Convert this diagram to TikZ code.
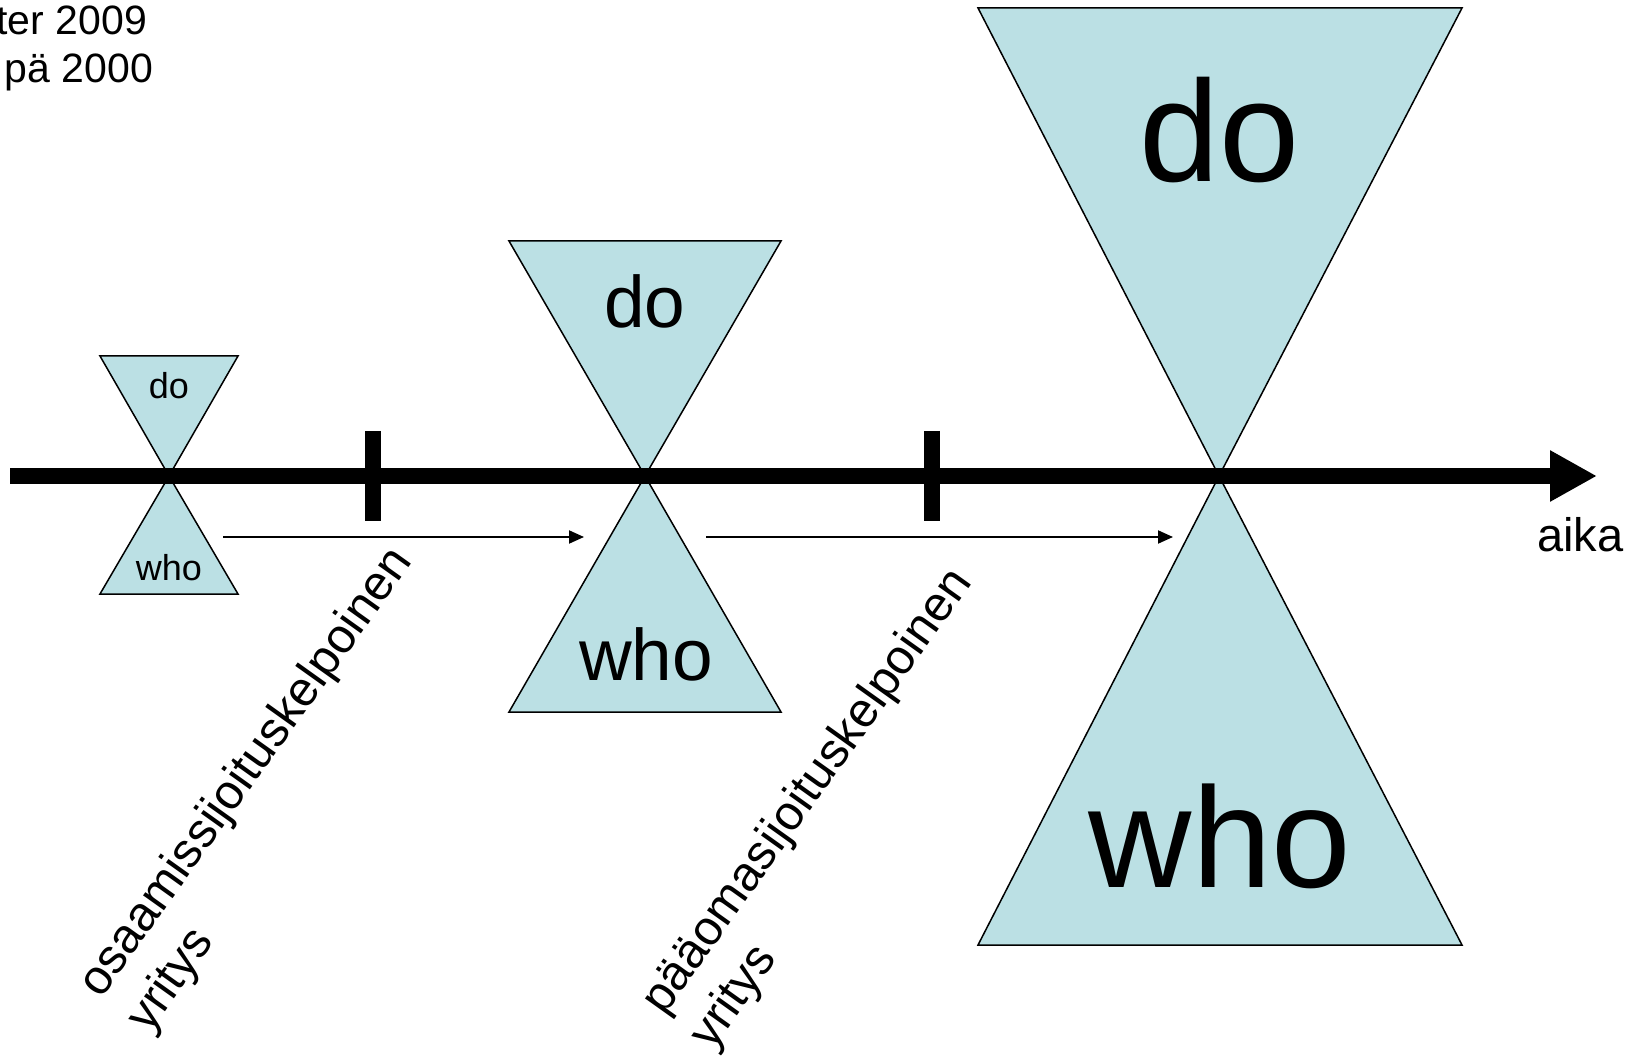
\documentclass[tikz,border=0pt]{standalone}
\usepackage{fontspec}
\setmainfont{Liberation Sans}
\usetikzlibrary{arrows.meta}
\definecolor{hgfill}{RGB}{187,224,228}
\tikzset{
  hgtri/.style={fill=hgfill,draw=black,line width=0.75pt,line join=miter},
  axisline/.style={line width=8pt,-{Triangle[length=23.5pt,width=24pt]}},
  tickmark/.style={line width=8pt},
  steparrow/.style={line width=1pt,-{Triangle[length=7.5pt,width=6.5pt]}},
  lbl/.style={inner sep=0pt,outer sep=0pt},
}
\newcommand{\fsz}[1]{\fontsize{#1}{#1}\selectfont}
\begin{document}
\begin{tikzpicture}[x=0.5pt,y=-0.5pt]
\useasboundingbox (0,0) rectangle (1637,1058);
% apexes
\coordinate (a1) at (169,476);
\coordinate (a2) at (645,476);
\coordinate (a3) at (1219,476);
% small hourglass
\draw[hgtri] (100,356) -- (238,356) -- (a1) -- cycle;
\draw[hgtri] (100,594) -- (238,594) -- (a1) -- cycle;
% medium hourglass
\draw[hgtri] (509,241) -- (781,241) -- (a2) -- cycle;
\draw[hgtri] (509,712) -- (781,712) -- (a2) -- cycle;
% large hourglass
\draw[hgtri] (978,8) -- (1462,8) -- (a3) -- cycle;
\draw[hgtri] (978,945) -- (1462,945) -- (a3) -- cycle;
% texts in hourglasses
\node[lbl,anchor=base] (do1) at (169,399) {\fsz{18pt}do};
\node[lbl,anchor=base] (who1) at (169,580) {\fsz{18pt}who};
\node[lbl,anchor=base] (do2) at (645,328) {\fsz{36.5pt}do};
\node[lbl,anchor=base] (who2) at (646,680) {\fsz{36.5pt}who};
\node[lbl,anchor=base] (do3) at (1220,182) {\fsz{72pt}do};
\node[lbl,anchor=base] (who3) at (1220,887) {\fsz{71.5pt}who};
% time axis
\coordinate (axs) at (10,476);
\coordinate (axe) at (1597,476);
\draw[axisline] (axs) -- (axe);
\coordinate (t1a) at (373,431); \coordinate (t1b) at (373,521);
\coordinate (t2a) at (932,431); \coordinate (t2b) at (932,521);
\draw[tickmark] (t1a) -- (t1b);
\draw[tickmark] (t2a) -- (t2b);
\node[lbl,anchor=base west] (aika) at (1537,552) {\fsz{23.5pt}aika};
% step arrows
\coordinate (s1a) at (223,537); \coordinate (s1b) at (584,537);
\coordinate (s2a) at (706,537); \coordinate (s2b) at (1173,537);
\draw[steparrow] (s1a) -- (s1b);
\draw[steparrow] (s2a) -- (s2b);
% rotated labels
\node[lbl,anchor=base west,rotate=54.5] (l1a) at (101,999) {\fsz{24.3pt}osaamissijoituskelpoinen};
\node[lbl,anchor=base west,rotate=54.5] (l1b) at (149,1034) {\fsz{24.3pt}yritys};
\node[lbl,anchor=base west,rotate=54.5] (l2a) at (664,1016) {\fsz{24.3pt}pääomasijoituskelpoinen};
\node[lbl,anchor=base west,rotate=54.5] (l2b) at (712,1051) {\fsz{24.3pt}yritys};
% cut-off top-left text
\node[lbl,anchor=base east] (tl1) at (147,35) {\fsz{20.5pt}ter 2009};
\node[lbl,anchor=base east] (tl2) at (153,83) {\fsz{20.5pt}pä 2000};
\end{tikzpicture}
\end{document}
